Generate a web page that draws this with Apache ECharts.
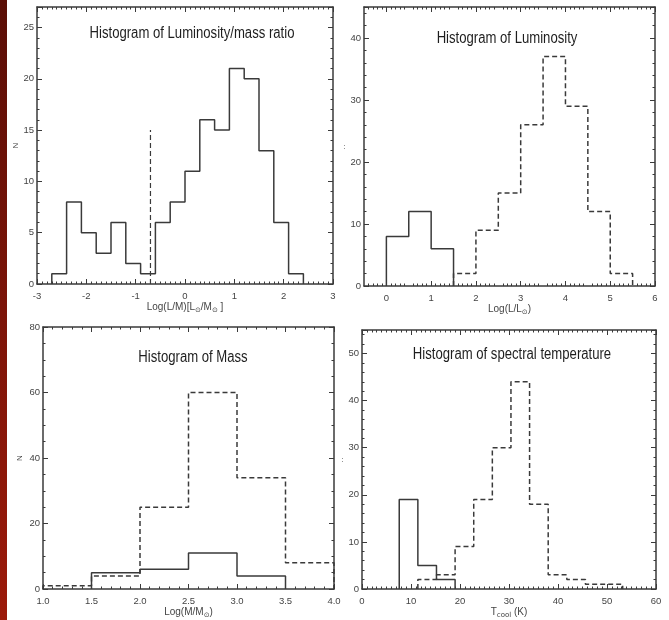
<!DOCTYPE html>
<html>
<head>
<meta charset="utf-8">
<script src="https://cdn.jsdelivr.net/npm/echarts@6/dist/echarts.min.js"></script>
<style>
  html, body { margin: 0; padding: 0; background: #fff; }
  #chart { width: 669px; height: 620px; }
</style>
</head>
<body>
<div id="chart"></div>
<script>
// panel 1 : Log(L/M)
const lmEdges = [-2.7, -2.4, -2.1, -1.8, -1.5, -1.2, -0.9, -0.6, -0.3, 0, 0.3, 0.6, 0.9, 1.2, 1.5, 1.8, 2.1, 2.4];
const lmCounts = [1, 8, 5, 3, 6, 2, 1, 6, 8, 11, 16, 15, 21, 20, 13, 6, 1];
const lmCutX = -0.7;
const lmCutTop = 15;
const lmXTicks = [-3, -2, -1, 0, 1, 2, 3];
const lmYTicks = [0, 5, 10, 15, 20, 25];

// panel 2 : Log(L/Lsun)
const lumEdgesA = [0, 0.5, 1, 1.5];
const lumCountsA = [8, 12, 6];
const lumEdgesB = [1.5, 2, 2.5, 3, 3.5, 4, 4.5, 5, 5.5];
const lumCountsB = [2, 9, 15, 26, 37, 29, 12, 2];
const lumXTicks = [0, 1, 2, 3, 4, 5, 6];
const lumYTicks = [0, 10, 20, 30, 40];

// panel 3 : Log(M/Msun)
const massEdgesA = [1.5, 2, 2.5, 3, 3.5];
const massCountsA = [5, 6, 11, 4];
const massEdgesB = [1, 1.5, 2, 2.5, 3, 3.5, 4];
const massCountsB = [1, 4, 25, 60, 34, 8];
const massXTicks = [1, 1.5, 2, 2.5, 3, 3.5, 4];
const massYTicks = [0, 20, 40, 60, 80];

// panel 4 : T_cool
const tempEdgesA = [7.6, 11.4, 15.2, 19.0];
const tempCountsA = [19, 5, 2];
const tempEdgesB = [11.4, 15.2, 19.0, 22.8, 26.6, 30.4, 34.2, 38.0, 41.8, 45.6, 49.4, 53.2];
const tempCountsB = [2, 3, 9, 19, 30, 44, 18, 3, 2, 1, 1];
const tempXTicks = [0, 10, 20, 30, 40, 50, 60];
const tempYTicks = [0, 10, 20, 30, 40, 50];

const ink = '#3a3a3a';
const labelFont = "'Liberation Sans', Arial, sans-serif";

// histogram outline as step line points
function stepPts(edges, counts) {
  let pts = [[edges[0], 0]];
  counts.forEach((c, i) => pts.push([edges[i], c]));
  pts.push([edges[edges.length - 1], 0]);
  return pts;
}

const subRich = {
  s: { fontSize: 7, fontFamily: "'DejaVu Sans', sans-serif", color: '#444', verticalAlign: 'bottom', padding: [6, 0, 0, 0] }
};

function xAxes(g, o) {
  let base = {
    gridIndex: g, type: 'value', min: o.min, max: o.max, interval: o.interval,
    axisLine: { show: true, onZero: false, lineStyle: { color: ink, width: 1.5 } },
    axisTick: { show: true, inside: true, length: 5, lineStyle: { color: ink, width: 1 } },
    minorTick: { show: true, splitNumber: o.minor, length: 2.5, lineStyle: { color: ink, width: 1 } },
    splitLine: { show: false }
  };
  if (o.tickValues) base.axisTick.customValues = o.tickValues;
  let bottom = Object.assign({}, base, {
    position: 'bottom',
    axisLabel: {
      customValues: o.labels, margin: 7, color: '#444', fontSize: 9.5, fontFamily: labelFont,
      formatter: o.fmt || (v => String(v))
    },
    name: o.name, nameLocation: 'middle', nameGap: o.nameGap || 17,
    nameTextStyle: { color: '#444', fontSize: 10, fontFamily: labelFont, rich: subRich }
  });
  let top = Object.assign({}, base, { position: 'top', axisLabel: { show: false } });
  return [bottom, top];
}

function yAxes(g, o) {
  let base = {
    gridIndex: g, type: 'value', min: 0, max: o.max, interval: o.interval,
    axisLine: { show: true, onZero: false, lineStyle: { color: ink, width: 1.5 } },
    axisTick: { show: true, inside: true, length: 5, lineStyle: { color: ink, width: 1 } },
    minorTick: { show: true, splitNumber: o.minor, length: 2.5, lineStyle: { color: ink, width: 1 } },
    splitLine: { show: false }
  };
  let left = Object.assign({}, base, {
    position: 'left',
    axisLabel: { customValues: o.labels, margin: 3, color: '#444', fontSize: 9.5, fontFamily: labelFont },
    name: o.name, nameLocation: 'middle', nameGap: o.nameGap, nameRotate: o.nameRotate,
    nameTextStyle: { color: '#444', fontSize: 8, fontFamily: labelFont }
  });
  let right = Object.assign({}, base, { position: 'right', axisLabel: { show: false } });
  return [left, right];
}

function hist(g, pts, dashed) {
  return {
    type: 'line', xAxisIndex: g * 2, yAxisIndex: g * 2, data: pts, step: 'end',
    showSymbol: false, silent: true, animation: false,
    lineStyle: { color: ink, width: 1.5, type: dashed ? [5, 3] : 'solid' }
  };
}

const chart = echarts.init(document.getElementById('chart'));

const xs = [].concat(
  xAxes(0, { min: -3, max: 3, interval: 1, minor: 10, labels: lmXTicks,
    name: 'Log(L/M)[L{s|⊙}/M{s|⊙} ]' }),
  xAxes(1, { min: -0.5, max: 6, interval: 0.5, minor: 5, labels: lumXTicks, tickValues: lumXTicks,
    name: 'Log(L/L{s|⊙})' }),
  xAxes(2, { min: 1, max: 4, interval: 0.5, minor: 5, labels: massXTicks,
    name: 'Log(M/M{s|⊙})', fmt: v => v.toFixed(1) }),
  xAxes(3, { min: 0, max: 60, interval: 10, minor: 10, labels: tempXTicks,
    name: 'T{s|cool} (K)' })
);
const ys = [].concat(
  yAxes(0, { max: 27, interval: 5, minor: 5, labels: lmYTicks, name: 'N', nameGap: 14, nameRotate: 90 }),
  yAxes(1, { max: 45, interval: 10, minor: 5, labels: lumYTicks, name: ':', nameGap: 15, nameRotate: 0 }),
  yAxes(2, { max: 80, interval: 20, minor: 4, labels: massYTicks, name: 'N', nameGap: 19, nameRotate: 90 }),
  yAxes(3, { max: 55, interval: 10, minor: 5, labels: tempYTicks, name: ':', nameGap: 17, nameRotate: 0 })
);

// titles: Arial-like face squeezed horizontally like the original
const titleFont = "16px 'Liberation Sans', Arial, sans-serif";
function title(txt, x, y) {
  return { type: 'text', x: x, y: y, z: 10, scaleX: 0.82,
    style: { text: txt, font: titleFont, fill: '#1e1e1e', align: 'center', verticalAlign: 'middle' } };
}

chart.setOption({
  animation: false,
  backgroundColor: '#fff',
  grid: [
    { left: 37, top: 7, width: 296, height: 277 },
    { left: 364, top: 7, width: 291, height: 279 },
    { left: 43, top: 327, width: 291, height: 263 },
    { left: 362, top: 330, width: 294, height: 259 }
  ],
  xAxis: xs,
  yAxis: ys,
  graphic: [
    { type: 'rect', x: 0, y: 0, z: -1, shape: { width: 7, height: 620 },
      style: { fill: new echarts.graphic.LinearGradient(0, 0, 0, 1, [
        { offset: 0, color: '#5a0e06' }, { offset: 0.5, color: '#7c1408' }, { offset: 1, color: '#9c1a0a' }
      ]) } },
    title('Histogram of Luminosity/mass ratio', 192, 34),
    title('Histogram of Luminosity', 507, 39),
    title('Histogram of Mass', 193, 358),
    title('Histogram of spectral temperature', 512, 355)
  ],
  series: [
    hist(0, stepPts(lmEdges, lmCounts), false),
    {
      type: 'line', xAxisIndex: 0, yAxisIndex: 0, showSymbol: false, silent: true,
      data: [[lmCutX, 0], [lmCutX, lmCutTop]],
      lineStyle: { color: ink, width: 1.2, type: [5, 3] }
    },
    hist(1, stepPts(lumEdgesA, lumCountsA), false),
    hist(1, stepPts(lumEdgesB, lumCountsB), true),
    hist(2, stepPts(massEdgesA, massCountsA), false),
    hist(2, stepPts(massEdgesB, massCountsB), true),
    hist(3, stepPts(tempEdgesA, tempCountsA), false),
    hist(3, stepPts(tempEdgesB, tempCountsB), true)
  ]
});
</script>
</body>
</html>
